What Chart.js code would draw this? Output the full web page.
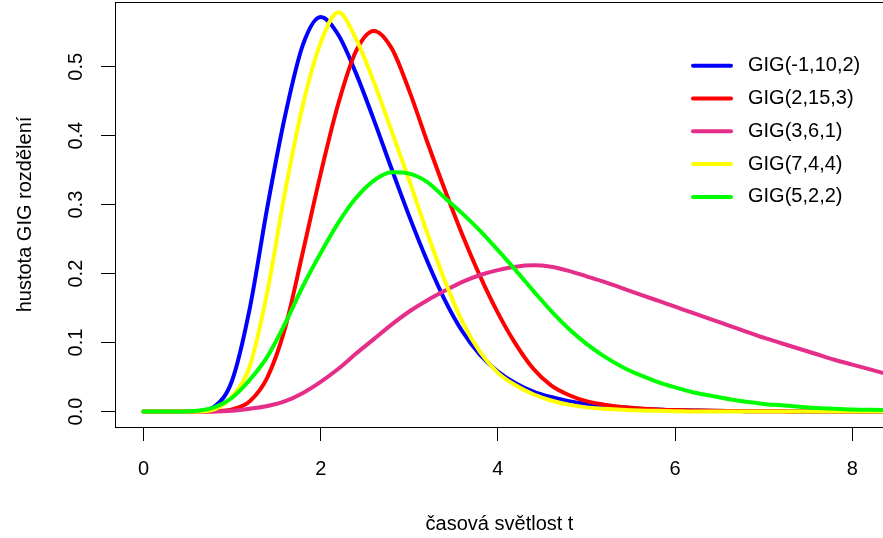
<!DOCTYPE html>
<html>
<head>
<meta charset="utf-8">
<script src="https://cdn.jsdelivr.net/npm/chart.js@4/dist/chart.umd.min.js"></script>
<style>
  html, body { margin: 0; padding: 0; background: #fff; }
  canvas { display: block; }
</style>
</head>
<body>
<canvas id="gigChart" width="883" height="538"></canvas>
<script>
// t grid (step 0.2) and density values for each GIG curve
const tValues = [0, 0.2, 0.4, 0.6, 0.8, 1.0, 1.2, 1.4, 1.6, 1.8, 2.0, 2.2, 2.4, 2.6, 2.8, 3.0, 3.2, 3.4, 3.6, 3.8,
  4.0, 4.2, 4.4, 4.6, 4.8, 5.0, 5.2, 5.4, 5.6, 5.8, 6.0, 6.2, 6.4, 6.6, 6.8, 7.0, 7.2, 7.4, 7.6, 7.8, 8.0, 8.2, 8.4];

const gig_m1_10_2 = [0, 0, 0, 0.0005, 0.007, 0.045, 0.15, 0.298, 0.43, 0.532, 0.572, 0.546, 0.49, 0.423, 0.352, 0.283, 0.219, 0.162, 0.116, 0.082,
  0.058, 0.041, 0.029, 0.021, 0.015, 0.011, 0.008, 0.006, 0.004, 0.003, 0.002, 0.0015, 0.001, 0.0007, 0.0005, 0.0003, 0.0002, 0, 0, 0, 0, 0, 0];

const gig_2_15_3 = [0, 0, 0, 0, 0.0005, 0.003, 0.015, 0.05, 0.122, 0.232, 0.345, 0.447, 0.523, 0.552, 0.527, 0.465, 0.392, 0.322, 0.256, 0.196,
  0.143, 0.098, 0.062, 0.038, 0.024, 0.015, 0.01, 0.0065, 0.0045, 0.003, 0.002, 0.0015, 0.001, 0.0007, 0.0005, 0.0003, 0.0002, 0, 0, 0, 0, 0, 0];

const gig_3_6_1 = [0, 0, 0, 0, 0, 0.001, 0.004, 0.008, 0.015, 0.027, 0.043, 0.062, 0.084, 0.105, 0.126, 0.145, 0.161, 0.175, 0.188, 0.198,
  0.205, 0.21, 0.212, 0.21, 0.204, 0.196, 0.188, 0.179, 0.17, 0.161, 0.152, 0.143, 0.134, 0.125, 0.116, 0.107, 0.099, 0.091, 0.083, 0.075, 0.068, 0.061, 0.054];

const gig_7_4_4 = [0, 0, 0, 0, 0.003, 0.022, 0.066, 0.175, 0.32, 0.445, 0.535, 0.579, 0.54, 0.478, 0.407, 0.335, 0.26, 0.19, 0.13, 0.086,
  0.056, 0.038, 0.025, 0.016, 0.01, 0.006, 0.004, 0.0025, 0.0015, 0.001, 0.0005, 0, 0, 0, 0, 0, 0, 0, 0, 0, 0, 0, 0];

const gig_5_2_2 = [0, 0, 0, 0.001, 0.006, 0.02, 0.046, 0.08, 0.128, 0.182, 0.23, 0.274, 0.31, 0.335, 0.347, 0.345, 0.333, 0.31, 0.287, 0.262,
  0.234, 0.205, 0.175, 0.146, 0.12, 0.098, 0.08, 0.065, 0.053, 0.043, 0.035, 0.028, 0.023, 0.018, 0.014, 0.011, 0.009, 0.007, 0.005, 0.004, 0.003, 0.0025, 0.002];

const seriesLabels = ['GIG(-1,10,2)', 'GIG(2,15,3)', 'GIG(3,6,1)', 'GIG(7,4,4)', 'GIG(5,2,2)'];
const seriesColors = ['#0000FF', '#FF0000', '#E52D8A', '#FFFF00', '#00FF00'];
const seriesValues = [gig_m1_10_2, gig_2_15_3, gig_3_6_1, gig_7_4_4, gig_5_2_2];

const xTicks = [0, 2, 4, 6, 8];
const yTicks = [0, 0.1, 0.2, 0.3, 0.4, 0.5];
const yTickLabels = ['0.0', '0.1', '0.2', '0.3', '0.4', '0.5'];

const xTitle = 'časová světlost t';
const yTitle = 'hustota GIG rozdělení';

const FONT = '20px "Liberation Sans", Arial, Helvetica, sans-serif';

// R-style frame, tick labels, axis titles and legend
const baseGraphics = {
  id: 'baseGraphics',
  afterDatasetsDraw(chart) {
    const { ctx, chartArea: a, scales: { x, y } } = chart;
    ctx.save();
    ctx.strokeStyle = '#000';
    ctx.lineWidth = 1;
    ctx.strokeRect(a.left + 0.5, a.top + 0.5, a.right - a.left, a.bottom - a.top);

    ctx.fillStyle = '#000';
    ctx.font = FONT;
    ctx.textAlign = 'center';
    ctx.textBaseline = 'alphabetic';

    x.ticks.forEach(t => ctx.fillText(String(t.value), x.getPixelForValue(t.value), 474.5));
    ctx.fillText(xTitle, (a.left + a.right + 1) / 2, 530);

    y.ticks.forEach((t, i) => {
      ctx.save();
      ctx.translate(82, y.getPixelForValue(t.value));
      ctx.rotate(-Math.PI / 2);
      ctx.fillText(yTickLabels[i], 0, 0);
      ctx.restore();
    });
    ctx.save();
    ctx.translate(31, (a.top + a.bottom) / 2);
    ctx.rotate(-Math.PI / 2);
    ctx.fillText(yTitle, 0, 0);
    ctx.restore();

    // legend
    ctx.textAlign = 'left';
    ctx.textBaseline = 'middle';
    seriesLabels.forEach((lab, i) => {
      const ly = 65.7 + i * 32.8;
      ctx.strokeStyle = seriesColors[i];
      ctx.lineWidth = 4;
      ctx.lineCap = 'round';
      ctx.beginPath();
      ctx.moveTo(693, ly);
      ctx.lineTo(731, ly);
      ctx.stroke();
      ctx.fillText(lab, 748, ly);
    });
    ctx.restore();
  }
};

const ctx = document.getElementById('gigChart').getContext('2d');
new Chart(ctx, {
  type: 'line',
  data: {
    datasets: seriesValues.map((vals, i) => ({
      label: seriesLabels[i],
      data: tValues.map((t, j) => ({ x: t, y: vals[j] })),
      borderColor: seriesColors[i],
      borderWidth: 4,
      borderCapStyle: 'round',
      borderJoinStyle: 'round',
      pointRadius: 0,
      fill: false,
      clip: 0,
      order: seriesValues.length - i  // later curves on top
    }))
  },
  options: {
    responsive: false,
    animation: false,
    events: [],
    layout: { padding: { top: 2, left: 0, right: 0, bottom: 0 } },
    elements: { line: { cubicInterpolationMode: 'monotone' } },
    plugins: { legend: { display: false }, tooltip: { enabled: false } },
    scales: {
      x: {
        type: 'linear',
        min: -0.3217,
        max: 8.347,
        afterFit(s) { s.height = 111; },
        afterBuildTicks(s) { s.ticks = xTicks.map(v => ({ value: v })); },
        ticks: { display: false },
        grid: { drawOnChartArea: false, drawTicks: true, tickLength: 14, color: '#000', lineWidth: 1 },
        border: { display: false }
      },
      y: {
        type: 'linear',
        min: -0.02248,
        max: 0.5939,
        afterFit(s) { s.width = 115; },
        afterBuildTicks(s) { s.ticks = yTicks.map(v => ({ value: v })); },
        ticks: { display: false },
        grid: { drawOnChartArea: false, drawTicks: true, tickLength: 14, color: '#000', lineWidth: 1 },
        border: { display: false }
      }
    }
  },
  plugins: [baseGraphics]
});
</script>
</body>
</html>
